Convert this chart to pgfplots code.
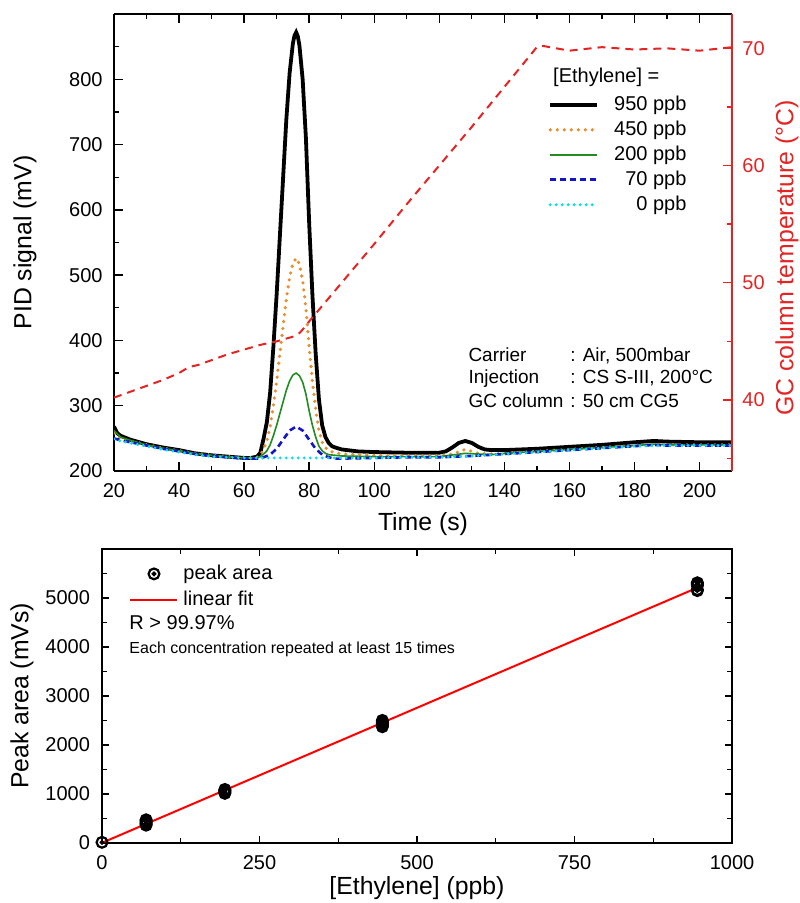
\documentclass[border=0pt]{standalone}
\usepackage{fontspec}
\setmainfont{Liberation Sans}
\usepackage{pgfplots}
\pgfplotsset{compat=1.18}
\definecolor{c950}{RGB}{0,0,0}
\definecolor{c450}{RGB}{232,142,48}
\definecolor{c200}{RGB}{34,139,34}
\definecolor{c70}{RGB}{20,20,200}
\definecolor{c0}{RGB}{0,225,235}
\definecolor{tempred}{RGB}{228,35,35}

\pgfdeclareplotmark{odot}{%
  \pgfpathcircle{\pgfpointorigin}{\pgfplotmarksize}\pgfusepathqstroke
  \pgfpathcircle{\pgfpointorigin}{0.22\pgfplotmarksize}\pgfusepathqfillstroke}

\newcommand\lblfont{\fontsize{12.4}{14}\selectfont}

\pgfplotsset{
  common/.style={
    scale only axis,
    tick align=inside,
    major tick length=4.5pt,
    minor tick length=2.3pt,
    axis line style={line width=0.8pt},
    every tick/.style={line width=0.7pt},
    /pgf/number format/assume math mode=true,
    /pgf/number format/1000 sep={},
    tick label style={font=\fontsize{10}{12}\selectfont},
  },
  lineleg/.style={legend image code/.code={\draw[##1] (0pt,0pt) -- (23.5pt,0pt);}},
  markleg/.style={legend image code/.code={\path[draw=none] (0pt,0pt) -- (23.5pt,0pt); \draw[##1] plot coordinates {(11.75pt,0pt)};}},
}

\begin{document}
\begin{tikzpicture}
\path[use as bounding box] (0,0) rectangle (399.5pt,-451.5pt);

% ---- top: chromatograms ----
\begin{axis}[common,
    at={(57pt,-7pt)}, anchor=north west,
    width=309pt, height=228.5pt,
    xmin=20, xmax=210, ymin=200, ymax=900,
    axis y line*=left,
    xtick={20,40,...,200}, minor xtick={30,50,...,210},
    ytick={200,300,...,800}, minor ytick={250,350,...,850},
    xtick pos=both,
    xticklabel style={yshift=-2.5pt},
    yticklabel style={xshift=-2.2pt},
    xlabel={Time (s)}, ylabel={PID signal (mV)},
    every axis x label/.style={at={(axis description cs:0.5,-0.116)}, anchor=center, font=\lblfont},
    every axis y label/.style={at={(axis description cs:-0.144,0.5)}, rotate=90, anchor=center, font=\lblfont},
    lineleg,
    legend cell align=right,
    legend style={at={(axis description cs:0.927,0.823)}, anchor=north east,
      draw=none, fill=none, inner sep=0pt, row sep=3pt,
      font=\fontsize{10}{12}\selectfont,
      nodes={inner sep=0pt, text height=7.5pt, text depth=2pt},
      /tikz/every odd column/.append style={column sep=7.5pt}},
]
\addplot[c950, line width=1.9pt] coordinates {
 (20,268) (21,258) (22,254) (25,248) (30,241) (35,236) (40,232) (45,227)
 (50,224) (55,222) (60,220) (62,220) (64,222) (65,228) (66,250) (67,275)
 (68,320) (69,390) (70,470) (71,560) (72,650) (73,740) (74,810) (75,855)
 (75.5,867) (76,872) (76.5,866) (77,852) (78,800) (79,710) (80,580) (81,470)
 (82,380) (83,310) (84,270) (85,252) (86,243) (87,238) (88,236) (90,233)
 (95,230) (100,229) (110,228) (120,228) (122,230) (124,236) (126,243)
 (128,246) (130,243) (132,237) (134,233) (136,232) (140,232) (150,234)
 (160,237) (170,240) (180,244) (186,246) (190,245) (200,244) (210,244)};
\addlegendentry{950 ppb}
\addplot[c450, line width=1.8pt, line cap=round, dash pattern=on 0pt off 3.5pt] coordinates {
 (20,258) (22,250) (25,246) (30,240) (35,235) (40,231) (45,227) (50,224)
 (55,222) (60,220) (62,220) (64,221) (65,224) (66,234) (67,246) (68,267)
 (69,300) (70,337) (71,380) (72,422) (73,464) (74,497) (75,518) (76,526)
 (77,517) (78,492) (79,450) (80,390) (81,338) (82,295) (83,262) (84,244)
 (85,236) (86,231) (88,228) (90,226) (100,224) (110,223) (120,223)
 (124,226) (128,233) (132,227) (136,226) (140,227) (150,230) (160,233)
 (170,236) (180,239) (186,241) (190,240) (200,240) (210,240)};
\addlegendentry{450 ppb}
\addplot[c200, line width=0.8pt] coordinates {
 (20,262) (22,252) (25,247) (30,240) (35,235) (40,231) (45,227) (50,224)
 (55,222) (60,220) (62,220) (64,220) (65,222) (66,226) (67,231) (68,240)
 (69,254) (70,270) (71,288) (72,306) (73,324) (74,338) (75,347) (76,350)
 (77,346) (78,336) (79,318) (80,292) (81,270) (82,252) (83,238) (84,231)
 (85,227) (86,225) (88,224) (90,223) (100,222) (110,222) (120,222)
 (128,227) (136,225) (140,227) (150,230) (160,233) (170,236) (180,239)
 (186,241) (190,240) (200,240) (210,240)};
\addlegendentry{200 ppb}
\addplot[c70, line width=1.3pt, dash pattern=on 3pt off 2pt] coordinates {
 (20,250) (22,247) (25,244) (30,239) (35,234) (40,230) (45,226) (50,223)
 (55,221) (60,219) (62,219) (64,219) (66,221) (68,225) (70,234) (72,248)
 (74,262) (76,268) (78,262) (80,248) (82,234) (84,225) (86,221) (88,219)
 (90,219) (100,220) (110,221) (120,221) (130,223) (140,226) (150,229)
 (160,232) (170,235) (180,238) (186,240) (190,239) (200,239) (210,239)};
\addlegendentry{70 ppb}
\addplot[c0, line width=1.6pt, line cap=round, dash pattern=on 0pt off 3pt] coordinates {
 (20,249) (22,246) (25,243) (30,238) (35,233) (40,229) (45,225) (50,222)
 (55,221) (60,220) (70,220) (80,220) (90,220) (100,220) (110,221) (120,221)
 (130,223) (140,226) (150,229) (160,232) (170,235) (180,238) (190,239)
 (200,239) (210,239)};
\addlegendentry{0 ppb}

\node[anchor=west, inner sep=0pt, font=\fontsize{10}{12}\selectfont] at (axis description cs:0.710,0.862) {[Ethylene] =};
\begin{scope}[every node/.style={anchor=west, inner sep=0pt, text height=7pt, text depth=2pt, font=\fontsize{9.5}{11.5}\selectfont}]
\node at (axis description cs:0.573,0.2516) {Carrier};
\node at (axis description cs:0.738,0.2516) {: Air, 500mbar};
\node at (axis description cs:0.573,0.2013) {Injection};
\node at (axis description cs:0.738,0.2013) {: CS S-III, 200°C};
\node at (axis description cs:0.573,0.1488) {GC column};
\node at (axis description cs:0.738,0.1488) {: 50 cm CG5};
\end{scope}
\end{axis}

% ---- top: temperature program (right axis) ----
\begin{axis}[common,
    at={(57pt,-7pt)}, anchor=north west,
    width=309pt, height=228.5pt,
    xmin=20, xmax=210, ymin=33.94, ymax=72.93,
    axis x line=none, axis y line*=right,
    ytick={40,50,60,70}, minor ytick={35,45,55,65},
    y axis line style={tempred, line width=0.8pt},
    every y tick/.style={tempred, line width=0.7pt},
    yticklabel style={tempred, xshift=1.7pt},
    ylabel={GC column temperature (°C)},
    every axis y label/.style={at={(axis description cs:1.089,0.466)}, rotate=90, anchor=center, text=tempred, font=\lblfont},
]
\addplot[tempred, line width=1pt, dash pattern=on 4pt off 3pt] coordinates {
 (20,40.2) (25,40.7) (30,41.2) (35,41.7) (40,42.3) (43,42.8) (46,43.0)
 (50,43.4) (55,43.9) (60,44.3) (65,44.7) (70,45.0) (75,45.4) (77,45.7)
 (78,46.0) (80,46.7) (90,50.0) (100,53.3) (110,56.7) (120,60.0) (130,63.3)
 (140,66.7) (150,70.1) (152,70.2) (160,69.8) (170,70.1) (180,69.9)
 (190,70.0) (200,69.8) (210,70.1)};
\end{axis}

% ---- bottom: calibration ----
\begin{axis}[common,
    at={(51pt,-274.5pt)}, anchor=north west,
    width=315pt, height=146.9pt,
    xmin=0, xmax=1000, ymin=0, ymax=6000,
    xtick={0,250,...,1000}, minor xtick={125,375,625,875},
    ytick={0,1000,...,5000}, minor ytick={500,1500,...,5500},
    tick pos=both,
    major tick length=3.5pt, minor tick length=2.5pt,
    xticklabel style={yshift=-3pt},
    yticklabel style={xshift=-2.5pt},
    xlabel={[Ethylene] (ppb)}, ylabel={Peak area (mVs)},
    every axis x label/.style={at={(axis description cs:0.5,-0.155)}, anchor=center, font=\lblfont},
    every axis y label/.style={at={(axis description cs:-0.127,0.5)}, rotate=90, anchor=center, font=\lblfont},
    legend cell align=left,
    legend style={at={(axis description cs:0.043,0.949)}, anchor=north west,
      draw=none, fill=none, inner sep=0pt, row sep=3.5pt,
      font=\fontsize{10}{12}\selectfont,
      nodes={inner sep=0pt, text height=7.5pt, text depth=2pt},
      /tikz/every odd column/.append style={column sep=2.5pt}},
]
\addplot[black, only marks, mark=odot, mark size=2.7pt, line width=1.1pt, markleg]
 coordinates {
 (0,10)
 (70,360) (70,385) (70,405) (70,430) (70,455) (70,470)
 (195,1010) (195,1030) (195,1050) (195,1070) (195,1090)
 (445,2370) (445,2395) (445,2420) (445,2445) (445,2470) (445,2500)
 (945,5150) (945,5170) (945,5250) (945,5280) (945,5300) (945,5310)};
\addlegendentry{peak area}
\addplot[red, line width=1pt, lineleg]
 coordinates {(0,0) (945,5210)};
\addlegendentry{linear fit}
\node[anchor=west, inner sep=0pt, font=\fontsize{10}{12}\selectfont] at (axis description cs:0.043,0.751) {R > 99.97\%};
\node[anchor=west, inner sep=0pt, font=\fontsize{8}{10}\selectfont] at (axis description cs:0.043,0.660) {Each concentration repeated at least 15 times};
\end{axis}
\end{tikzpicture}
\end{document}
